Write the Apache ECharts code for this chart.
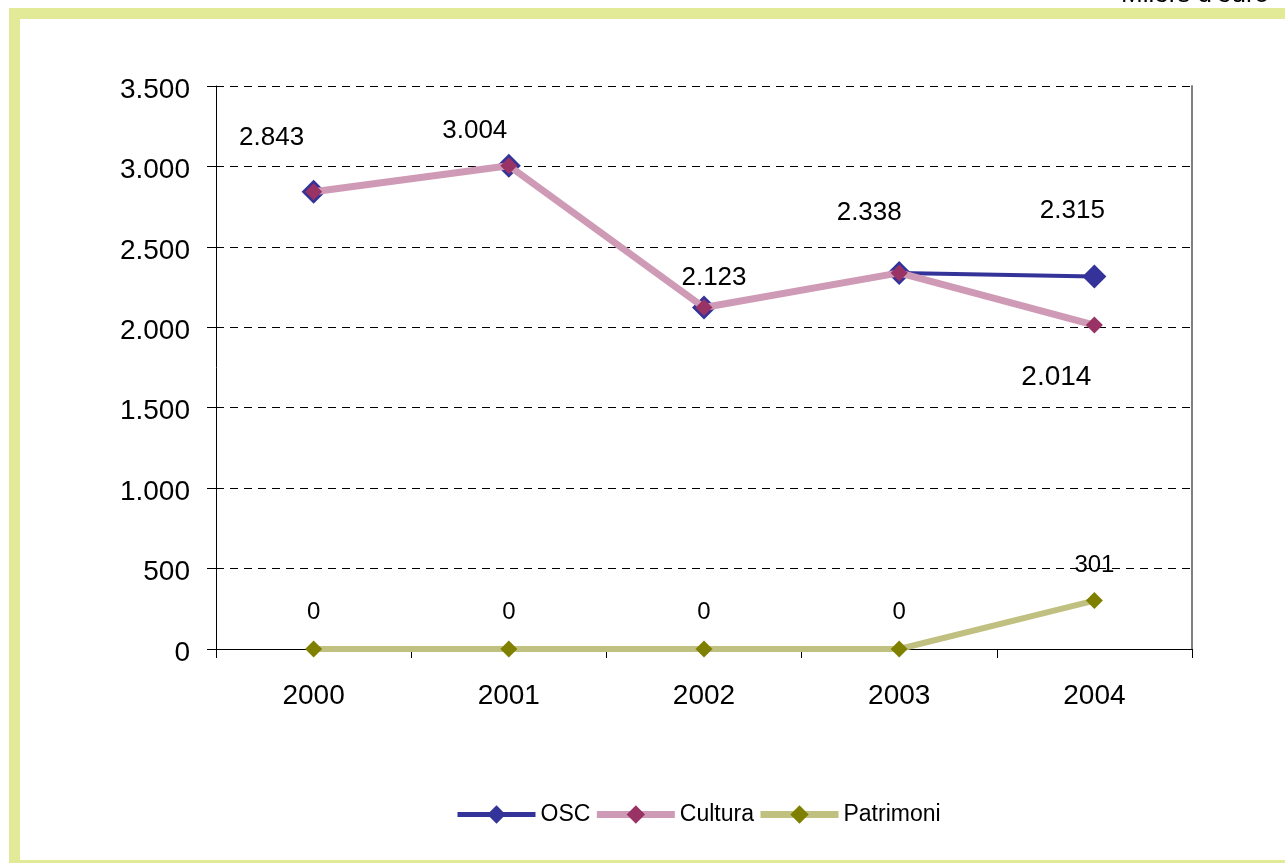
<!DOCTYPE html>
<html>
<head>
<meta charset="utf-8">
<script src="https://cdn.jsdelivr.net/npm/echarts@6/dist/echarts.min.js"></script>
<style>
html,body{margin:0;padding:0;background:#fff;overflow:hidden;}
#frame{position:absolute;left:9px;top:8px;width:1400px;height:863px;border:11px solid #e2ea98;box-sizing:border-box;}
#chart{position:absolute;left:0;top:0;width:1285px;height:863px;}
</style>
</head>
<body>
<div id="frame"></div>
<div id="chart"></div>
<script>
const categories = ['2000', '2001', '2002', '2003', '2004'];
const oscValues = [2843, 3004, 2123, 2338, 2315];
const culturaValues = [2843, 3004, 2123, 2338, 2014];
const patrimoniValues = [0, 0, 0, 0, 301];
const unitLabel = "Milers d'euro";

// label placement (style, not data)
const oscLabelOffsets = [[-42, -24], [-34, -5], [10, 0], [-30, -30], [-22, -36]];
const culturaLabelShown = [false, false, false, false, true];
const patrimoniLabelOffset = [0, -10];
const zeroLabelOffset = [0, -11];

const fmt = v => String(v).replace(/\B(?=(\d{3})+(?!\d))/g, '.');
const FONT = '"Liberation Sans", Arial, sans-serif';

const chart = echarts.init(document.getElementById('chart'), null, {renderer: 'canvas'});

const oscData = oscValues.map((v, i) => ({
  value: v,
  label: {show: true, position: 'top', offset: oscLabelOffsets[i], fontSize: 26}
}));
const culturaData = culturaValues.map((v, i) => ({
  value: v,
  label: {show: culturaLabelShown[i], position: 'bottom', offset: [-38, 25], fontSize: 28}
}));
const patrimoniData = patrimoniValues.map(v => ({
  value: v,
  label: {offset: v === 0 ? zeroLabelOffset : patrimoniLabelOffset}
}));

chart.setOption({
  animation: false,
  textStyle: {fontFamily: FONT, color: '#000'},
  title: {
    text: unitLabel, left: 1116, top: -23,
    textStyle: {fontFamily: FONT, fontSize: 26, fontWeight: 'normal', color: '#000'}
  },
  grid: {left: 216, top: 86, right: 93, bottom: 214, containLabel: false},
  legend: {
    left: 455, top: 803, padding: 0,
    itemWidth: 78, itemHeight: 23, itemGap: 3,
    textStyle: {fontFamily: FONT, fontSize: 23, color: '#000'},
    data: [
      {name: 'OSC', lineStyle: {width: 5}},
      {name: 'Cultura', lineStyle: {width: 7}},
      {name: 'Patrimoni', lineStyle: {width: 7}}
    ]
  },
  xAxis: [{
    type: 'category', data: categories, boundaryGap: true,
    axisLine: {lineStyle: {color: '#000', width: 1}},
    axisTick: {show: true, length: 9, lineStyle: {color: '#000'}},
    axisLabel: {fontSize: 28, color: '#000', margin: 33, fontFamily: FONT},
    splitLine: {show: false}
  }, {
    type: 'category', data: categories, position: 'top',
    axisLine: {show: true, lineStyle: {color: '#000', width: 1}},
    axisTick: {show: false}, axisLabel: {show: false}
  }],
  yAxis: [{
    type: 'value', min: 0, max: 3500, interval: 500,
    axisLine: {show: true, lineStyle: {color: '#000', width: 1}},
    axisTick: {show: true, length: 9, lineStyle: {color: '#000'}},
    axisLabel: {fontSize: 28, color: '#000', margin: 26, formatter: fmt, fontFamily: FONT, verticalAlign: 'top', lineHeight: 8},
    splitLine: {show: true, lineStyle: {color: '#000', type: [8, 6], width: 1}}
  }, {
    type: 'value', min: 0, max: 3500, interval: 500, position: 'right',
    axisLine: {show: true, lineStyle: {color: '#808080', width: 2}},
    axisTick: {show: false}, axisLabel: {show: false}, splitLine: {show: false}
  }, {
    type: 'value', min: 0, max: 3500, interval: 500, position: 'left',
    axisLine: {show: false},
    axisTick: {show: true, inside: true, length: 8, lineStyle: {color: '#000'}},
    axisLabel: {show: false}, splitLine: {show: false}
  }],
  series: [{
    name: 'OSC', type: 'line', data: oscData,
    symbol: 'diamond', symbolSize: 24,
    lineStyle: {color: '#333399', width: 4},
    itemStyle: {color: '#333399'},
    label: {color: '#000', fontFamily: FONT, formatter: p => fmt(p.value)},
    z: 2
  }, {
    name: 'Cultura', type: 'line', data: culturaData,
    symbol: 'diamond', symbolSize: 17,
    lineStyle: {color: '#cf9ab5', width: 7},
    itemStyle: {color: '#993366'},
    label: {color: '#000', fontFamily: FONT, formatter: p => fmt(p.value)},
    z: 3
  }, {
    name: 'Patrimoni', type: 'line', data: patrimoniData,
    symbol: 'diamond', symbolSize: 17,
    lineStyle: {color: '#c0c080', width: 6},
    itemStyle: {color: '#808000'},
    label: {show: true, position: 'top', fontSize: 24, color: '#000', fontFamily: FONT, formatter: p => fmt(p.value)},
    z: 4
  }]
});
</script>
</body>
</html>
